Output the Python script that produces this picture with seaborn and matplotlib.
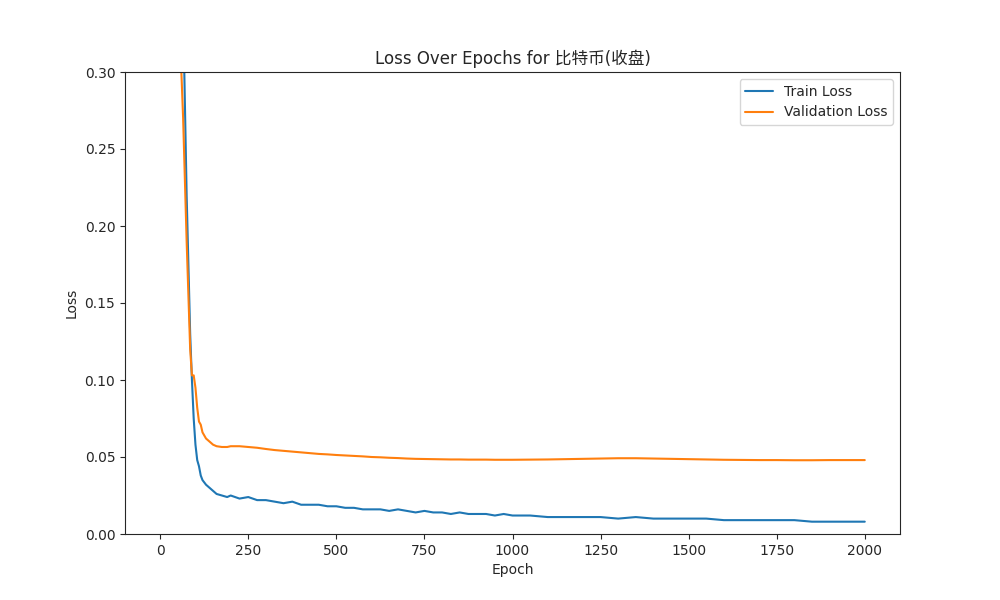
import matplotlib
matplotlib.use("Agg")
import matplotlib.pyplot as plt
import seaborn as sns
import pandas as pd

epochs = [0, 20, 40, 55, 65, 75, 85, 90, 95, 100, 105, 110, 115, 120, 130, 140, 150, 160, 175, 190, 200, 225, 250, 275, 300, 325, 350, 375, 400, 425, 450, 475, 500, 525, 550, 575, 600, 625, 650, 675, 700, 725, 750, 775, 800, 825, 850, 875, 900, 925, 950, 975, 1000, 1050, 1100, 1150, 1200, 1250, 1300, 1350, 1400, 1450, 1500, 1550, 1600, 1650, 1700, 1750, 1800, 1850, 1900, 1950, 2000]
train_loss = [1.0, 0.8, 0.55, 0.42, 0.34, 0.22, 0.13, 0.10, 0.075, 0.058, 0.048, 0.044, 0.038, 0.035, 0.032, 0.030, 0.028, 0.026, 0.025, 0.024, 0.025, 0.023, 0.024, 0.022, 0.022, 0.021, 0.020, 0.021, 0.019, 0.019, 0.019, 0.018, 0.018, 0.017, 0.017, 0.016, 0.016, 0.016, 0.015, 0.016, 0.015, 0.014, 0.015, 0.014, 0.014, 0.013, 0.014, 0.013, 0.013, 0.013, 0.012, 0.013, 0.012, 0.012, 0.011, 0.011, 0.011, 0.011, 0.010, 0.011, 0.010, 0.010, 0.010, 0.010, 0.009, 0.009, 0.009, 0.009, 0.009, 0.008, 0.008, 0.008, 0.008]
val_loss = [0.9, 0.65, 0.45, 0.33, 0.27, 0.19, 0.12, 0.103, 0.103, 0.095, 0.082, 0.073, 0.071, 0.066, 0.062, 0.060, 0.058, 0.057, 0.0565, 0.0565, 0.057, 0.057, 0.0565, 0.056, 0.0552, 0.0545, 0.054, 0.0535, 0.053, 0.0525, 0.052, 0.0517, 0.0513, 0.051, 0.0507, 0.0504, 0.050, 0.0498, 0.0495, 0.0493, 0.049, 0.0488, 0.0487, 0.0486, 0.0485, 0.0484, 0.0484, 0.0483, 0.0483, 0.0483, 0.0482, 0.0482, 0.0482, 0.0483, 0.0484, 0.0486, 0.0488, 0.049, 0.0492, 0.0492, 0.049, 0.0488, 0.0486, 0.0484, 0.0482, 0.0481, 0.048, 0.048, 0.0479, 0.0479, 0.048, 0.048, 0.048]

df = pd.DataFrame({"Epoch": epochs + epochs,
                   "Loss": train_loss + val_loss,
                   "series": ["Train Loss"] * len(epochs) + ["Validation Loss"] * len(epochs)})

sns.set_style("ticks")
plt.rcParams['font.family'] = ['DejaVu Sans', 'Noto Sans CJK SC']
fig, ax = plt.subplots(figsize=(10, 6), dpi=100)
sns.lineplot(data=df, x="Epoch", y="Loss", hue="series", palette=["#1f77b4", "#ff7f0e"], ax=ax)
ax.set_ylim(0, 0.3)
ax.set_xlim(-100, 2100)
ax.set_title("Loss Over Epochs for 比特币(收盘)")
ax.legend(title=None, loc="upper right")
plt.savefig("out.png")
